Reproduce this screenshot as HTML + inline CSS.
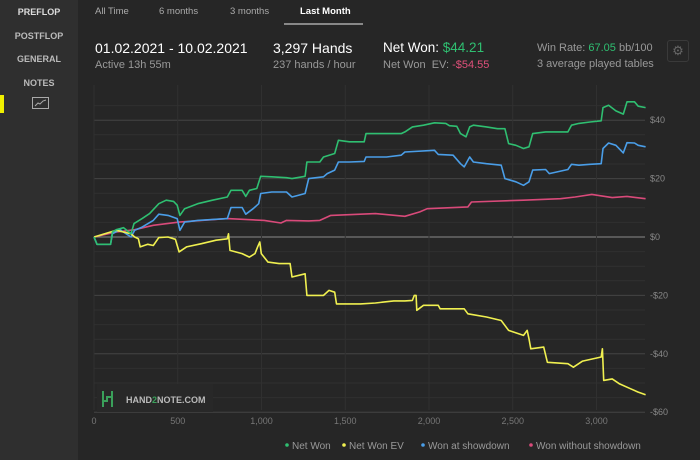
<!DOCTYPE html>
<html><head><meta charset="utf-8"><style>
body{margin:0;width:700px;height:460px;background:#262626;font-family:"Liberation Sans",sans-serif;overflow:hidden;position:relative;color:#ddd}
.side{position:absolute;left:0;top:0;width:78px;height:460px;background:#2f2f2f}
.side div{position:absolute;width:78px;text-align:center;font-size:9px;font-weight:bold;color:#bbb}
.tab{position:absolute;top:6px;font-size:9.5px;color:#aaa}
.t{position:absolute;white-space:nowrap}
</style></head><body>
<div class="side">
<div style="top:7px;color:#ddd">PREFLOP</div>
<div style="top:31px">POSTFLOP</div>
<div style="top:54px">GENERAL</div>
<div style="top:78px">NOTES</div>
<span style="position:absolute;left:0;top:95px;width:4px;height:18px;background:#f0f000"></span>
<svg style="position:absolute;left:32px;top:97px" width="17" height="12"><rect x="0.5" y="0.5" width="16" height="11" fill="none" stroke="#aaa"/><polyline points="3,9 6,6 8,7 11,4 14,3" fill="none" stroke="#aaa"/></svg>
</div>
<div class="tab" style="left:95px">All Time</div>
<div class="tab" style="left:159px">6 months</div>
<div class="tab" style="left:230px">3 months</div>
<div class="tab" style="left:300px;color:#fff;font-weight:bold">Last Month</div>
<div style="position:absolute;left:284px;top:23px;width:79px;height:2px;background:#888"></div>
<div class="t" style="left:95px;top:40px;font-size:14px;color:#fff">01.02.2021 - 10.02.2021</div>
<div class="t" style="left:95px;top:59px;font-size:11px;color:#999">Active 13h 55m</div>
<div class="t" style="left:273px;top:40px;font-size:14px;color:#fff">3,297 Hands</div>
<div class="t" style="left:273px;top:59px;font-size:11px;color:#999">237 hands / hour</div>
<div class="t" style="left:383px;top:40px;font-size:13.5px;color:#fff">Net Won: <span style="color:#2fbf71">$44.21</span></div>
<div class="t" style="left:383px;top:59px;font-size:11px;color:#999">Net Won&nbsp; EV: <span style="color:#e0507a">-$54.55</span></div>
<div class="t" style="left:537px;top:42px;font-size:11px;color:#999">Win Rate: <span style="color:#2fbf71">67.05</span> bb/100</div>
<div class="t" style="left:537px;top:58px;font-size:11px;color:#999">3 average played tables</div>
<div style="position:absolute;left:667px;top:40px;width:20px;height:20px;border:1px solid #3a3a3a;border-radius:3px;color:#666;font-size:13px;text-align:center;line-height:20px">⚙</div>
<svg id="c" width="700" height="460" style="position:absolute;left:0;top:0"></svg>
<script>
const xTicks=[0,500,1000,1500,2000,2500,3000];
const xTickLabels=["0","500","1,000","1,500","2,000","2,500","3,000"];
const yTicks=[40,20,0,-20,-40,-60];
const yTickLabels=["$40","$20","$0","-$20","-$40","-$60"];
const seriesNames=["Net Won","Net Won  EV","Won at showdown","Won without showdown"];
const seriesColors=["#2fbf71","#f0f050","#4a9ee8","#d94a7a"];
const netWonX=[0,18,99,110,133,177,221,239,287,332,387,431,475,497,513,541,619,707,796,818,884,906,928,972,995,1061,1149,1182,1260,1271,1348,1370,1437,1459,1525,1613,1624,1746,1834,1856,1901,1967,2033,2100,2122,2166,2188,2221,2243,2265,2343,2409,2453,2475,2519,2564,2597,2619,2696,2763,2829,2851,2895,2961,3028,3039,3072,3116,3160,3182,3227,3249,3293];
const netWonY=[0,-2.5,-2.5,1.7,2.5,3.2,1.1,4.6,6.3,8,11.4,12.6,12.2,10.9,7.4,9.7,11.4,12.6,13.7,16,16,13.9,16,16.6,20.8,20.6,20.3,20,20.8,25.7,25.7,27.4,28.6,33.1,32.6,32.6,35.4,35.4,35.4,36,37.7,38.3,39.1,38.9,38.1,37.9,35.4,34.3,37.7,38.3,37.7,37.1,37.1,32,31.4,30.3,30.9,35.4,36,36,36,38.3,38.9,39.4,39.8,44.3,45.1,43.2,42.1,46.3,46.3,44.8,44.3];
const evX=[0,133,221,243,265,276,321,354,387,442,486,508,552,641,729,796,803,812,884,928,961,977,990,999,1039,1105,1171,1182,1260,1271,1370,1403,1437,1448,1591,1680,1790,1856,1901,1912,1923,1927,1967,2055,2066,2210,2232,2343,2431,2475,2564,2586,2597,2608,2685,2707,2829,2862,2917,3028,3035,3043,3094,3138,3204,3249,3293];
const evY=[0,2.3,1.1,0,-0.6,-3.4,-2.5,-2.9,-0.2,0,-0.8,-5.1,-3.4,-2.3,-1.1,-0.6,1.1,-4.6,-5.7,-6.9,-5.7,-3.4,-1.7,-5.7,-8.6,-9.1,-9.1,-13.7,-12.6,-20,-20,-18.3,-18.9,-22.9,-22.9,-22.6,-21.9,-21.9,-21.7,-20,-20,-25.1,-23.4,-23.4,-24.6,-24.6,-26.3,-27.4,-28.6,-32,-33.7,-32,-34.9,-38.3,-37.7,-42.9,-43.4,-44.6,-42.5,-41.1,-38.3,-49.1,-48.6,-50.3,-52,-53.1,-54];
const sdX=[0,18,99,110,155,221,243,287,354,387,442,497,513,541,619,796,818,884,906,950,983,995,1061,1149,1182,1260,1282,1370,1392,1437,1459,1525,1613,1624,1746,1834,1856,2033,2055,2144,2188,2210,2243,2265,2343,2431,2453,2519,2564,2597,2619,2696,2718,2829,2851,2895,2961,3028,3039,3072,3116,3160,3182,3227,3249,3293];
const sdY=[0,-2.5,-2.5,1.1,2.5,0,2.3,3.4,5.7,7.8,7.4,6.3,2.3,5.1,5.7,6.3,10.1,10.1,7.8,9.7,11.4,14.9,15.4,15.4,13.7,14.9,20,20.6,21.7,22.9,25.7,25.7,25.9,27.4,27.4,28,29.1,29.7,28.3,28,25.1,24,27.4,25.7,25.1,24.6,20,18.9,17.7,18.9,22.9,23.1,21.7,23.1,24.9,24.6,24.9,25.1,30.3,32.2,31.4,28.8,32.3,32.2,31.4,30.9];
const nsdX=[0,133,243,354,508,796,1017,1116,1149,1282,1348,1414,1680,1856,1945,1989,2232,2254,2564,2785,2873,2972,3094,3182,3293];
const nsdY=[0,1.7,2.5,4,5.1,6.3,5.7,4.8,5.7,5.5,5.7,7.4,8,7.1,8.6,9.7,10.3,12,12.6,13.1,13.7,14.6,13.5,13.9,13.1];

const NS="http://www.w3.org/2000/svg",svg=document.getElementById('c');
const L=94,R=645,T=85,B=410;
const sx=h=>L+h*0.1675, sy=v=>237-v*2.92;
function mk(t,a,p){const e=document.createElementNS(NS,t);for(const k in a)e.setAttribute(k,a[k]);(p||svg).appendChild(e);return e;}
for(let v=-60;v<=45;v+=5){const y=sy(v);if(y<T)continue;
 const g=mk('line',{x1:L,x2:R,y1:y,y2:y,stroke:v===0?'#8a8a8a':(v%20===0?'#444':'#303030'),'stroke-width':1});
 
 }
xTicks.forEach((h,i)=>{const x=sx(h);
 const g=mk('line',{x1:x,x2:x,y1:T,y2:B,stroke:'#303030'});
 
 
 const t=mk('text',{x:x,y:424,fill:'#777','font-size':9,'text-anchor':'middle','font-family':'Liberation Sans'});t.textContent=xTickLabels[i];
 
 });
yTicks.forEach((v,i)=>{const t=mk('text',{x:650,y:sy(v)+3,fill:'#888','font-size':9,'font-family':'Liberation Sans'});t.textContent=yTickLabels[i];
 
 });
const data=[[netWonX,netWonY],[evX,evY],[sdX,sdY],[nsdX,nsdY]];
[3,2,1,0].forEach(i=>{const [xs,ys]=data[i];
 const p=mk('polyline',{points:xs.map((h,j)=>sx(h).toFixed(1)+','+sy(ys[j]).toFixed(1)).join(' '),fill:'none',stroke:seriesColors[i],'stroke-width':1.6,'stroke-linejoin':'round'});
 
 });
const lg=mk('g',{});


mk('rect',{x:97,y:384,width:116,height:28,fill:'#282828'},lg);
mk('path',{d:'M103,391v16M112,391v16M103,401h4v-4h5',stroke:'#3aa05a','stroke-width':2,fill:'none'},lg);
const lt=mk('text',{x:126,y:403,fill:'#bbb','font-size':9,'font-weight':'bold','font-family':'Liberation Sans'},lg);lt.innerHTML='HAND<tspan fill="#3aa05a">2</tspan>NOTE.COM';
const lx=[287,344,423,531];
seriesNames.forEach((n,i)=>{const g=mk('g',{});
 
 
 mk('circle',{cx:lx[i],cy:445,r:1.8,fill:seriesColors[i]},g);
 const t=mk('text',{x:lx[i]+5,y:449,fill:'#999','font-size':10,'font-family':'Liberation Sans','xml:space':'preserve'},g);t.textContent=n;});
</script>
</body></html>
